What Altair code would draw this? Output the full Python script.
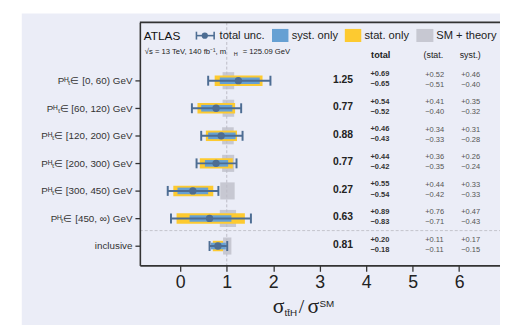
import altair as alt
import pandas as pd

# ---------------- data ----------------
labels = ["P\u1d34\u209c\u2208 [0, 60) GeV", "P\u1d34\u209c\u2208 [60, 120) GeV",
          "P\u1d34\u209c\u2208 [120, 200) GeV", "P\u1d34\u209c\u2208 [200, 300) GeV",
          "P\u1d34\u209c\u2208 [300, 450) GeV", "P\u1d34\u209c\u2208 [450, \u221e) GeV",
          "inclusive"]
mu = [1.25, 0.77, 0.88, 0.77, 0.27, 0.63, 0.81]
tot_up = [0.69, 0.54, 0.46, 0.44, 0.55, 0.89, 0.20]
tot_dn = [0.65, 0.52, 0.43, 0.42, 0.54, 0.83, 0.18]
stat_up = [0.52, 0.41, 0.34, 0.36, 0.44, 0.76, 0.11]
stat_dn = [0.51, 0.40, 0.33, 0.35, 0.42, 0.71, 0.11]
syst_up = [0.46, 0.35, 0.31, 0.26, 0.33, 0.47, 0.17]
syst_dn = [0.40, 0.32, 0.28, 0.24, 0.33, 0.43, 0.15]
theory_lo = [0.91, 0.91, 0.90, 0.90, 0.86, 0.85, 0.92]
theory_hi = [1.16, 1.16, 1.15, 1.16, 1.17, 1.20, 1.10]
x_ticks = [0, 1, 2, 3, 4, 5, 6]
sm_value = 1.0
separator_row = 5.44

# ---------------- styling ----------------
BG = "#ebedf7"
C_SYST = "#66a0d3"
C_STAT = "#fdca30"
C_SM = "#c7c8d2"
C_ERR = "#4d6d93"
FRAME = "#333333"
SANS = "Liberation Sans"
SERIF = "Liberation Serif"
W, H = 366, 247

n = len(mu)
rows = list(range(n))
df = pd.DataFrame({
    "row": rows, "mu": mu,
    "tot_lo": [m - d for m, d in zip(mu, tot_dn)], "tot_hi": [m + u for m, u in zip(mu, tot_up)],
    "stat_lo": [m - d for m, d in zip(mu, stat_dn)], "stat_hi": [m + u for m, u in zip(mu, stat_up)],
    "syst_lo": [m - d for m, d in zip(mu, syst_dn)], "syst_hi": [m + u for m, u in zip(mu, syst_up)],
    "th_lo": theory_lo, "th_hi": theory_hi,
})
df["th_y1"] = df["row"] - 0.31
df["th_y2"] = df["row"] + 0.31
df["st_y1"] = df["row"] - 0.19
df["st_y2"] = df["row"] + 0.19
df["sy_y1"] = df["row"] - 0.12
df["sy_y2"] = df["row"] + 0.12
df["cap_y1"] = df["row"] - 0.18
df["cap_y2"] = df["row"] + 0.18
df["val_txt"] = [f"{v:.2f}" for v in mu]
df["tu_txt"] = [f"+{v:.2f}" for v in tot_up]
df["td_txt"] = [f"\u2212{v:.2f}" for v in tot_dn]
df["su_txt"] = [f"+{v:.2f}" for v in stat_up]
df["sd_txt"] = [f"\u2212{v:.2f}" for v in stat_dn]
df["yu_txt"] = [f"+{v:.2f}" for v in syst_up]
df["yd_txt"] = [f"\u2212{v:.2f}" for v in syst_dn]

one = pd.DataFrame({"a": [0]})

xscale = alt.Scale(domain=[-0.87, 6.88], nice=False, zero=False)
yscale = alt.Scale(domain=[-2.118, 6.703], nice=False, zero=False, reverse=True)

label_expr = "[" + ",".join("'" + s + "'" for s in labels) + "][datum.value]"
xaxis = alt.Axis(values=x_ticks, grid=False, title=None, labelFontSize=18, labelFont=SANS,
                 labelColor="#222", tickColor=FRAME, tickSize=6, tickWidth=1.3, labelPadding=2,
                 domainColor=FRAME, domainWidth=1.6, zindex=2)
yaxis = alt.Axis(values=rows, labelExpr=label_expr, grid=False, title=None, labelFontSize=10,
                 labelFont=SANS, labelColor="#333", tickColor=FRAME, tickSize=5, tickWidth=1.3,
                 labelPadding=3, domainColor=FRAME, domainWidth=1.6, zindex=2)


def X(f):
    return alt.X(f, type="quantitative", scale=xscale, axis=xaxis)


def Y(f):
    return alt.Y(f, type="quantitative", scale=yscale, axis=yaxis)


base = alt.Chart(df)

background = alt.Chart(one).mark_rect(color=BG).encode(
    x=alt.value(-120), x2=alt.value(372), y=alt.value(-9), y2=alt.value(310))

theory = base.mark_rect(color=C_SM).encode(x=X("th_lo"), x2="th_hi", y=Y("th_y1"), y2="th_y2")

smline = alt.Chart(one).mark_rule(color="#bdbdc6", strokeDash=[3, 2], strokeWidth=1).encode(
    x=alt.X(datum=sm_value, type="quantitative", scale=xscale, axis=xaxis),
    y=alt.value(0), y2=alt.value(H))

sepline = alt.Chart(one).mark_rule(color="#c3c3cb", strokeDash=[3, 2], strokeWidth=1).encode(
    y=alt.Y(datum=separator_row, type="quantitative", scale=yscale, axis=yaxis),
    x=alt.value(0), x2=alt.value(W + 10))

stat = base.mark_rect(color=C_STAT).encode(x=X("stat_lo"), x2="stat_hi", y=Y("st_y1"), y2="st_y2")
syst = base.mark_rect(color=C_SYST).encode(x=X("syst_lo"), x2="syst_hi", y=Y("sy_y1"), y2="sy_y2")
errline = base.mark_rule(color=C_ERR, strokeWidth=2).encode(x=X("tot_lo"), x2="tot_hi", y=Y("row"))
cap_lo = base.mark_rule(color=C_ERR, strokeWidth=2).encode(x=X("tot_lo"), y=Y("cap_y1"), y2="cap_y2")
cap_hi = base.mark_rule(color=C_ERR, strokeWidth=2).encode(x=X("tot_hi"), y=Y("cap_y1"), y2="cap_y2")
points = base.mark_circle(color=C_ERR, opacity=1, size=55).encode(x=X("mu"), y=Y("row"))

# numeric columns on the right
val_t = base.mark_text(align="right", baseline="middle", font=SANS, fontSize=10.5,
                       fontWeight="bold", color="#222", dy=-1).encode(
    x=alt.value(216.6), y=Y("row"), text="val_txt")


def small(col, xpx, dy, bold, color):
    return base.mark_text(align="left", baseline="middle", font=SANS, fontSize=7.6,
                          fontWeight="bold" if bold else "normal", color=color, dy=dy).encode(
        x=alt.value(xpx), y=Y("row"), text=col)


tu = small("tu_txt", 234.3, -6.5, True, "#333")
td = small("td_txt", 234.3, 3.7, True, "#333")
su = small("su_txt", 290, -6.2, False, "#555")
sd = small("sd_txt", 290, 3.9, False, "#555")
yu = small("yu_txt", 326.6, -6.2, False, "#555")
yd = small("yd_txt", 326.6, 3.9, False, "#555")

# top frame line
topline = alt.Chart(one).mark_rule(color=FRAME, strokeWidth=1.6).encode(
    x=alt.value(0), x2=alt.value(W + 10), y=alt.value(0))


def txt(s, x, y, size, font=SANS, weight="normal", color="#222", align="left", baseline="middle"):
    return alt.Chart(one).mark_text(text=s, align=align, baseline=baseline, font=font,
                                    fontSize=size, fontWeight=weight, color=color).encode(
        x=alt.value(x), y=alt.value(y))


def box(x1, x2, y1, y2, color):
    return alt.Chart(one).mark_rect(color=color).encode(
        x=alt.value(x1), x2=alt.value(x2), y=alt.value(y1), y2=alt.value(y2))


# legend / header
atlas = txt("ATLAS", 4, 13.5, 12, color="#111")
leg_line = alt.Chart(one).mark_rule(color=C_ERR, strokeWidth=1.6).encode(
    x=alt.value(57.5), x2=alt.value(75.5), y=alt.value(13.5))
leg_c1 = alt.Chart(one).mark_rule(color=C_ERR, strokeWidth=1.6).encode(
    x=alt.value(57.5), y=alt.value(9.5), y2=alt.value(17.5))
leg_c2 = alt.Chart(one).mark_rule(color=C_ERR, strokeWidth=1.6).encode(
    x=alt.value(75.5), y=alt.value(9.5), y2=alt.value(17.5))
leg_pt = alt.Chart(one).mark_circle(color=C_ERR, opacity=1, size=40).encode(
    x=alt.value(66), y=alt.value(13.5))
leg_t1 = txt("total unc.", 81, 14, 11.3)
leg_b1 = box(134.3, 151, 6.7, 20, C_SYST)
leg_t2 = txt("syst. only", 154.3, 14, 11.3)
leg_b2 = box(208.3, 225, 6.7, 20, C_STAT)
leg_t3 = txt("stat. only", 228.3, 14, 11.3)
leg_b3 = box(281, 298.3, 6.7, 20, C_SM)
leg_t4 = txt("SM + theory", 301.3, 14, 11.3)

sub1 = txt("\u221as = 13 TeV, 140 fb\u207b\u00b9, m", 5, 30, 7.8)
sub2 = txt("H", 95.5, 32, 5.6)
sub3 = txt("= 125.09 GeV", 104.5, 30, 7.8)

h_total = txt("total", 235, 33.3, 9.3, weight="bold")
h_stat = txt("(stat.", 288.3, 33.3, 9)
h_syst = txt("syst.)", 325, 33.3, 9)

# axis title  sigma_ttH / sigma^SM
t_s1 = txt("\u03c3", 135, 295, 22, font=SERIF, baseline="alphabetic")
t_sub = txt("tt\u0304H", 147, 298.5, 10, baseline="alphabetic")
t_sl = txt("/", 161.5, 295, 20, font=SERIF, baseline="alphabetic")
t_s2 = txt("\u03c3", 170.3, 295, 22, font=SERIF, baseline="alphabetic")
t_sup = txt("SM", 182.5, 289, 10, baseline="alphabetic")

chart = alt.layer(
    background, theory, smline, sepline, stat, syst, errline, cap_lo, cap_hi, points,
    val_t, tu, td, su, sd, yu, yd, topline,
    atlas, leg_line, leg_c1, leg_c2, leg_pt, leg_t1, leg_b1, leg_t2, leg_b2, leg_t3, leg_b3, leg_t4,
    sub1, sub2, sub3, h_total, h_stat, h_syst,
    t_s1, t_sub, t_sl, t_s2, t_sup,
).properties(
    width=W, height=H,
    autosize=alt.AutoSizeParams(type="none"),
    padding={"left": 134, "top": 12, "right": 0, "bottom": 58},
    background="white",
).configure_view(stroke=None)

chart.save("out.html", embed_options={"renderer": "svg", "actions": False})
